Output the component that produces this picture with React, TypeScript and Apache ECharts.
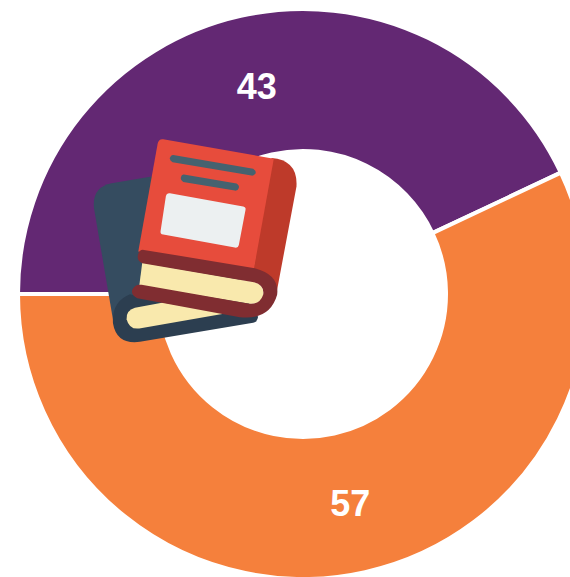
import React, { useEffect, useRef } from "react";
import * as echarts from "echarts";

const categories = ["Purple", "Orange"];
const seriesValues = [43, 57];
const sliceColors = ["#632873", "#F5803C"];
const labelOffsets = [[1, 4], [0, -2]];

const bookShapes: [string, string, string][] = [
  ["bkCoverBack", "M 215 140 L 95 160 Q 35 172 42 235 L 100 575 L 530 575 L 420 300 Z", "#354C60"],
  ["bkSpineBack", "M 250 521 L 150 493 Q 95 515 99 580 Q 110 645 180 636 L 520 579 Q 532 577 535 560 L 420 500 Z", "#2C3E50"],
  ["bkPagesBack", "M 250 518 L 165 534 Q 138 542 140 568 Q 148 600 178 596 L 440 550 Z", "#F9E9AD"],
  ["bkSide", "M 575 84 Q 655 90 650 170 L 590 490 L 520 420 Z", "#BE3A2A"],
  ["bkCover", "M 250 28 L 582 86 L 522 418 L 175 365 L 233 42 Q 236 26 250 28 Z", "#E74C3C"],
  ["bkPages", "M 187 398 L 525 457 Q 555 468 550 497 Q 540 526 505 521 L 178 468 Z", "#F9E9AD"],
  ["bkSpine", "M 192 360 L 525 415 Q 600 435 592 495 Q 570 572 480 562 L 172 505 Q 152 495 157 480 Q 165 462 185 465 L 505 521 Q 540 526 550 495 Q 555 466 522 457 L 187 400 Q 170 392 174 375 Q 178 358 192 360 Z", "#802D31"],
  ["bkLabel", "M 270 190 L 490 230 Q 499 232 497 240 L 477 345 Q 475 355 465 353 L 250 314 Q 240 312 242 303 L 258 198 Q 260 188 270 190 Z", "#ECF0F1"],
  ["bkLine1", "M 280 75 L 520 116 Q 530 122 527 130 Q 523 138 515 137 L 278 97 Q 268 90 270 83 Q 273 74 280 75 Z", "#45626F"],
  ["bkLine2", "M 312 134 L 470 161 Q 479 166 477 174 Q 474 183 465 182 L 310 156 Q 301 150 303 142 Q 305 133 312 134 Z", "#45626F"],
];

bookShapes.forEach(([name, d]) => {
  echarts.graphic.registerShape(name, echarts.graphic.extendPath(d, {}) as any);
});

export default function App() {
  const ref = useRef<HTMLDivElement>(null);
  useEffect(() => {
    const chart = echarts.init(ref.current!, undefined, { renderer: "svg" });
    chart.setOption({
      animation: false,
      series: [
        {
          type: "pie",
          center: [303, 294],
          radius: [143, 285],
          startAngle: 180,
          clockwise: true,
          silent: true,
          itemStyle: { borderColor: "#ffffff", borderWidth: 4 },
          label: {
            show: true,
            position: "inside",
            formatter: "{c}",
            color: "#ffffff",
            fontFamily: "Liberation Sans",
            fontWeight: "bold",
            fontSize: 36,
          },
          labelLine: { show: false },
          data: categories.map((name, i) => ({
            name,
            value: seriesValues[i],
            itemStyle: { color: sliceColors[i] },
            label: { offset: labelOffsets[i] },
          })),
        },
      ],
      graphic: bookShapes.map(([name, , fill]) => ({
        type: name,
        x: 80,
        y: 130,
        scaleX: 1 / 3,
        scaleY: 1 / 3,
        z: 100,
        style: { fill },
      })),
    });
    return () => chart.dispose();
  }, []);
  return (
    <div
      ref={ref}
      style={{ position: "absolute", left: 0, top: 0, width: 570, height: 577, overflow: "hidden" }}
    />
  );
}
